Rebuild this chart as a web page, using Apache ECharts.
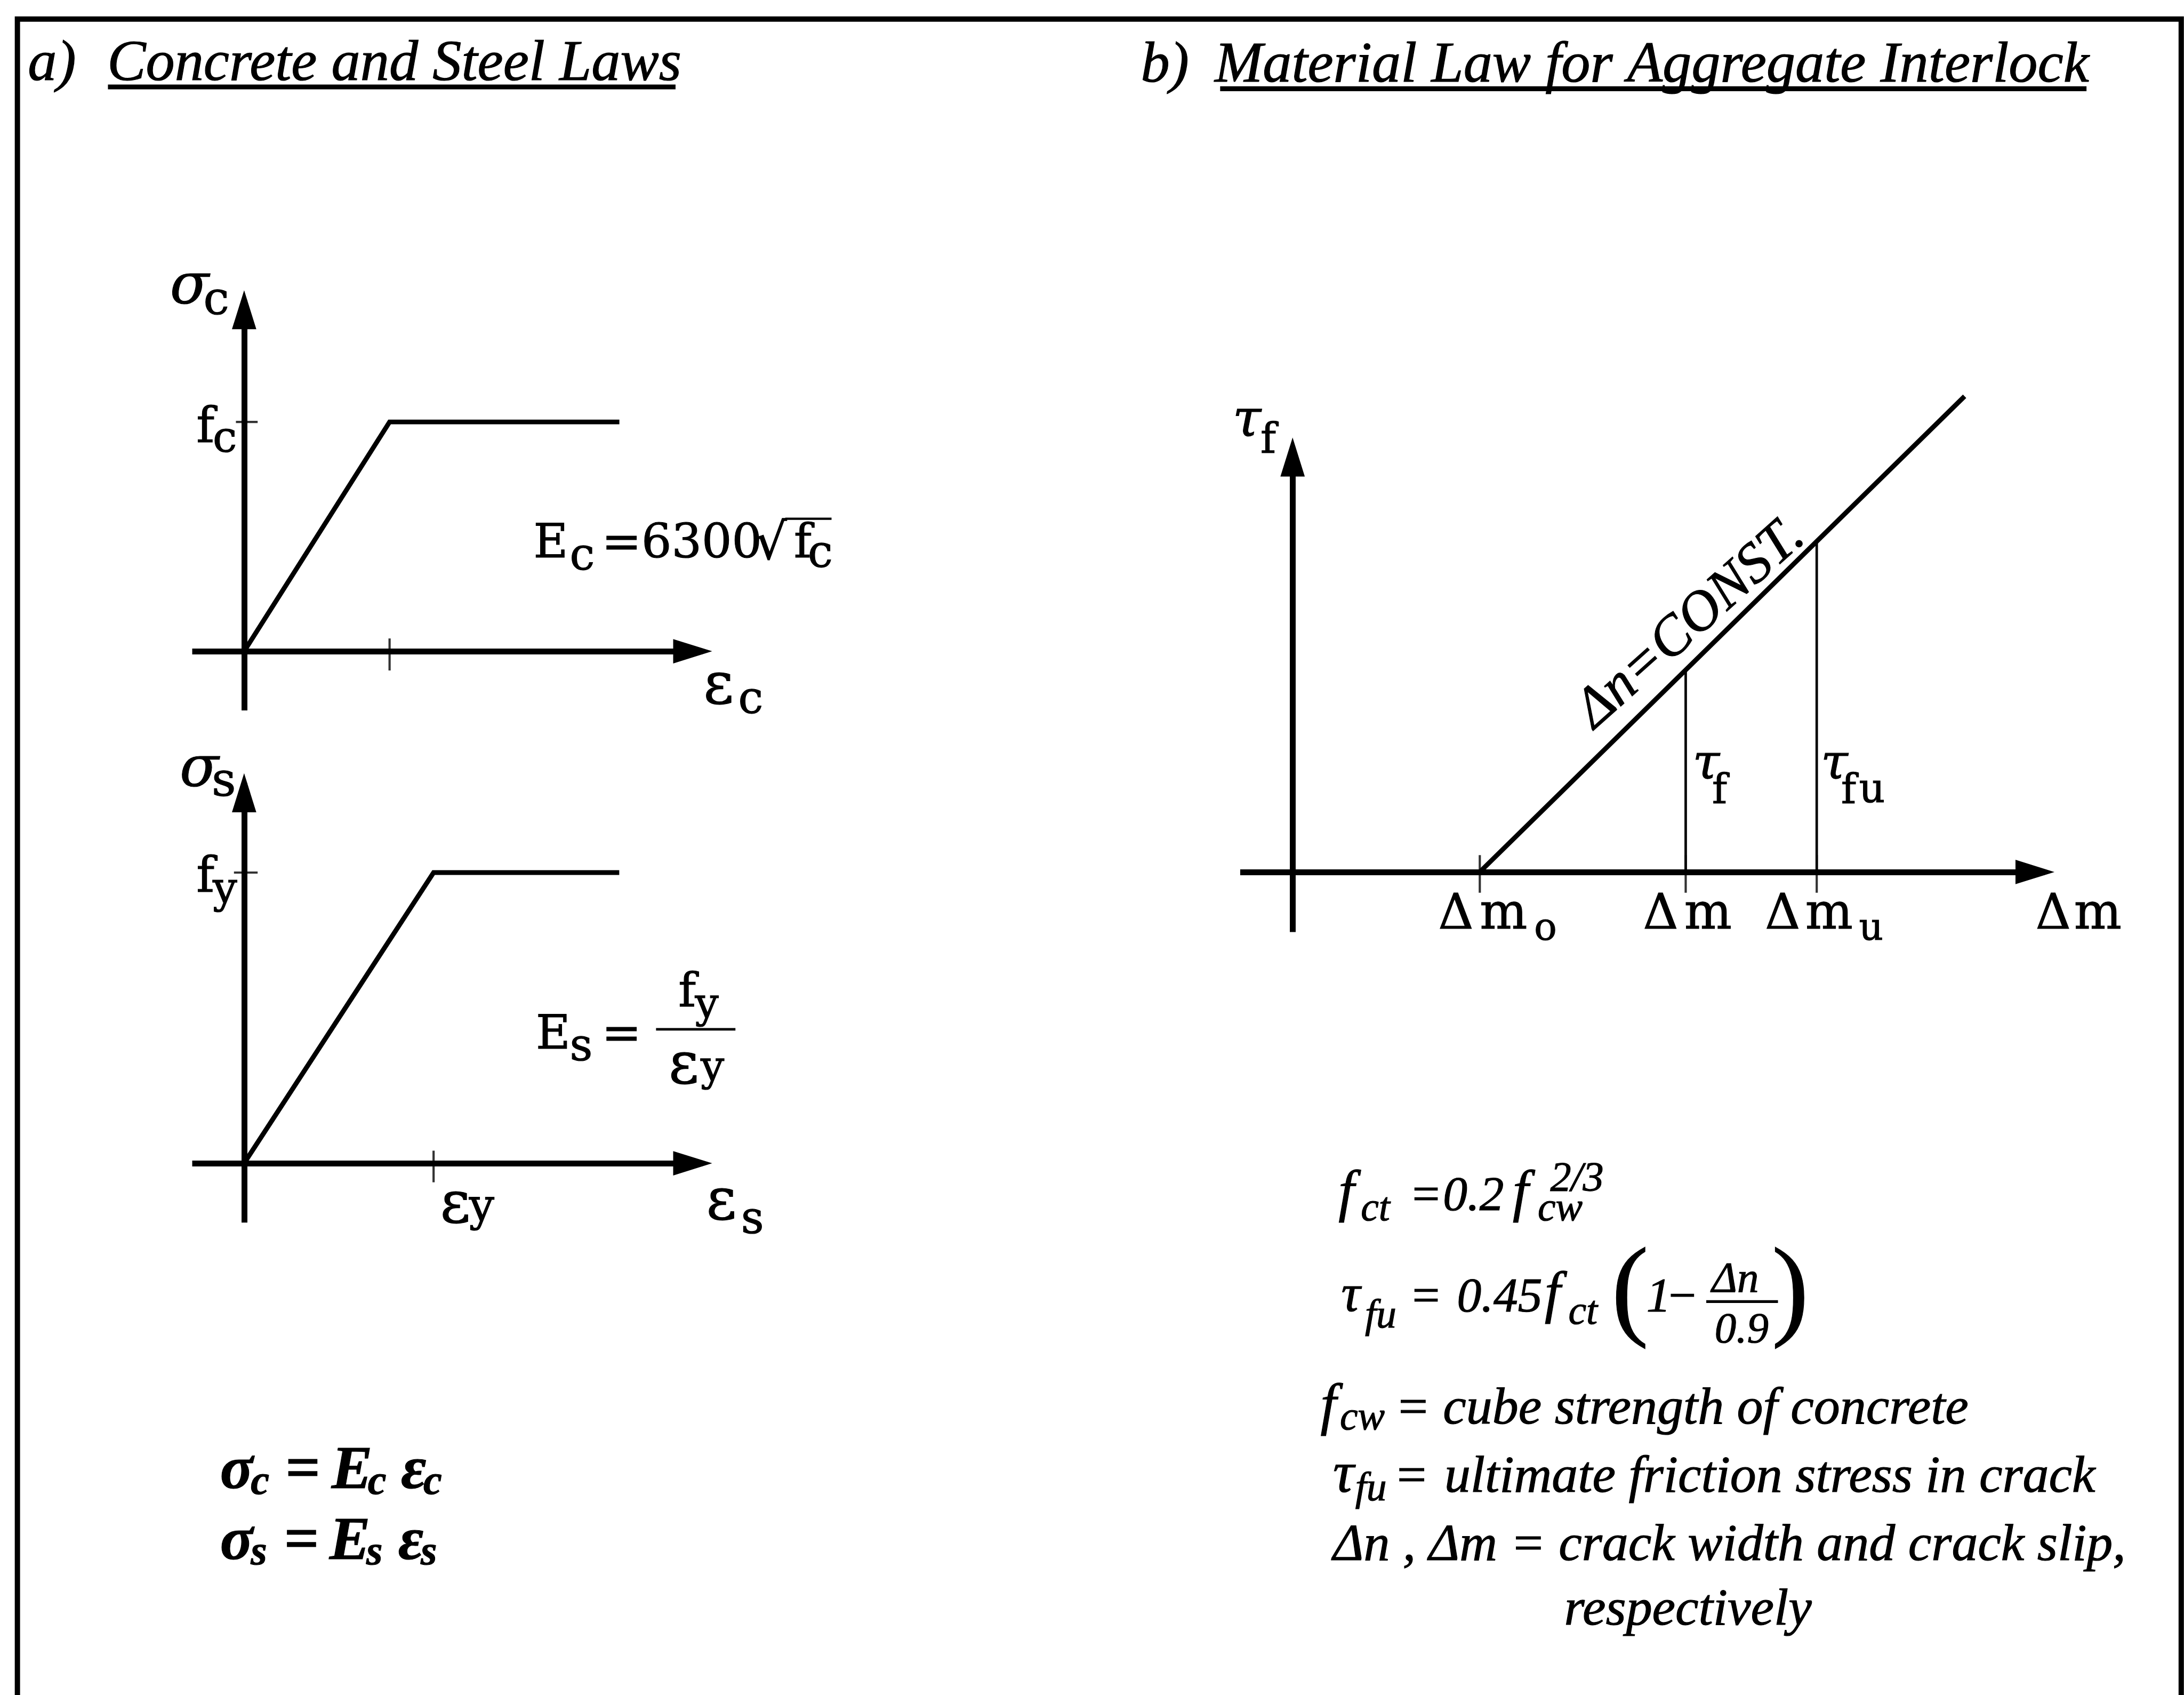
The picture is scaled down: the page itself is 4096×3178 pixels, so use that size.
<!DOCTYPE html>
<html>
<head>
<meta charset="utf-8">
<script src="https://cdn.jsdelivr.net/npm/echarts@6/dist/echarts.min.js"></script>
<style>
  html, body { margin: 0; padding: 0; background: #fff; }
  #main { width: 4096px; height: 3178px; }
</style>
</head>
<body>
<div id="main"></div>
<script>
// Layout is written in design units (1568 x 1217 sheet) and scaled to the window.
const S = 4096 / 1568;
const px = v => v * S;

// ---------- data ----------
// a) concrete and steel laws (strain and stress normalised to the knee point)
const concreteStrain = [0, 1.0, 2.58];
const concreteStress = [0, 1.0, 1.0];
const steelStrain = [0, 1.0, 1.98];
const steelStress = [0, 1.0, 1.0];
// b) aggregate interlock: friction stress vs. crack slip for constant crack width
const slipLine = [1.0, 3.59];
const frictionLine = [0, 2.54];
const slipMarks = [1.0, 2.10, 2.80];      // Δm_o, Δm, Δm_u
const frictionAtMarks = [1.08, 1.76];     // τ_f, τ_fu
// tick labels: [symbol, variable, subscript]
const slipTickLabels = [['Δ', 'm', 'o'], ['Δ', 'm', ''], ['Δ', 'm', 'u']];
const frictionTickLabels = [['τ', 'f', ''], ['τ', 'f', 'u']];

// axis ranges
const concreteX = [-0.357, 3.151], concreteY = [-0.258, 1.532];
const steelX = [-0.274, 2.419], steelY = [-0.204, 1.308];
const slipX = [-0.28, 4.018], frictionY = [-0.321, 2.268];

// ---------- fonts / text helpers ----------
const DV = '"DejaVu Serif"';
const LS = '"Liberation Serif"';
const F = (size, fam, style) => ((style ? style + ' ' : '') + (size * S).toFixed(2) + 'px ' + fam);
const INK = px(0.45);   // slight stroke so the lettering has the weight of printed type

const mctx = document.createElement('canvas').getContext('2d');
function midToBase(font) {
  mctx.font = font; mctx.textBaseline = 'middle';
  return mctx.measureText('H').actualBoundingBoxDescent;
}
function measure(text, font) {
  mctx.font = font; mctx.textBaseline = 'alphabetic';
  return mctx.measureText(text);
}

const els = [];
// text with its left edge at x and its baseline at b (window pixels)
function put(x, b, text, font, extra) {
  els.push(Object.assign({
    type: 'text', x: x, y: b, silent: true, z: 10,
    style: {
      text: text, font: font, fill: '#000', stroke: '#000', lineWidth: INK,
      x: 0, y: -midToBase(font),
      align: 'left', verticalAlign: 'middle', textAlign: 'left', textVerticalAlign: 'middle'
    }
  }, extra || {}));
}
const putD = (x, b, text, font, extra) => put(px(x), px(b), text, font, extra);
function rule(x1, y1, x2, y2, w) {
  els.push({ type: 'line', silent: true, z: 10,
    shape: { x1: x1, y1: y1, x2: x2, y2: y2 },
    style: { stroke: '#000', lineWidth: w } });
}
const ruleD = (x1, y1, x2, y2, w) => rule(px(x1), px(y1), px(x2), px(y2), px(w));

// ---------- chart ----------
const AXIS_W = px(4.2), CURVE_W = px(3.4), THIN_W = px(1.8), TICK_W = px(1.6);

const grids = [
  { left: px(138), top: px(215.3), width: px(504.3 - 138), height: px(509.9 - 215.3) },
  { left: px(138), top: px(562), width: px(504.3 - 138), height: px(877.5 - 562) },
  { left: px(890.4), top: px(321), width: px(1468 - 890.4), height: px(669 - 321) }
];

function makeAxis(i, range) {
  return {
    type: 'value', gridIndex: i, min: range[0], max: range[1],
    axisLine: {
      show: true, onZero: true,
      symbol: ['none', 'triangle'],
      symbolSize: [px(17.5), px(28)],
      symbolOffset: [0, -px(7)],
      lineStyle: { color: '#000', width: AXIS_W, cap: 'butt' }
    },
    axisTick: { show: false }, axisLabel: { show: false },
    splitLine: { show: false }, splitArea: { show: false },
    axisPointer: { show: false }
  };
}
function curve(i, xs, ys, w) {
  return {
    type: 'line', xAxisIndex: i, yAxisIndex: i,
    data: xs.map((x, k) => [x, ys[k]]),
    symbol: 'none', showSymbol: false, clip: false, silent: true, z: 3,
    lineStyle: { color: '#000', width: w, join: 'miter', cap: 'butt' }
  };
}
function ticks(i, pts, size, offset) {
  return {
    type: 'scatter', xAxisIndex: i, yAxisIndex: i, data: pts,
    symbol: 'rect', symbolSize: size, symbolOffset: offset,
    itemStyle: { color: '#000' }, silent: true, z: 4
  };
}

const chart = echarts.init(document.getElementById('main'), null, { renderer: 'canvas', width: 4096, height: 3178 });

chart.setOption({
  backgroundColor: '#fff',
  animation: false,
  grid: grids.map(g => Object.assign({ show: false, containLabel: false, outerBoundsMode: 'none' }, g)),
  xAxis: [makeAxis(0, concreteX), makeAxis(1, steelX), makeAxis(2, slipX)],
  yAxis: [makeAxis(0, concreteY), makeAxis(1, steelY), makeAxis(2, frictionY)],
  series: [
    curve(0, concreteStrain, concreteStress, CURVE_W),
    curve(1, steelStrain, steelStress, CURVE_W),
    curve(2, slipLine, frictionLine, CURVE_W),
    curve(2, [slipMarks[1], slipMarks[1]], [0, frictionAtMarks[0]], THIN_W),
    curve(2, [slipMarks[2], slipMarks[2]], [0, frictionAtMarks[1]], THIN_W),
    ticks(0, [[concreteStrain[1], 0]], [TICK_W, px(23)], [0, px(2.3)]),
    ticks(0, [[0, concreteStress[1]]], [px(15.6), TICK_W], [px(1.9), 0]),
    ticks(1, [[steelStrain[1], 0]], [TICK_W, px(22.7)], [0, px(2.3)]),
    ticks(1, [[0, steelStress[1]]], [px(17), TICK_W], [px(1.2), 0]),
    ticks(2, slipMarks.map(m => [m, 0]), [TICK_W, px(27)], [0, px(1.4)])
  ]
});

const at = (g, x, y) => chart.convertToPixel({ gridIndex: g }, [x, y]);

// ---------- frame and headings ----------
els.push({ type: 'polyline', silent: true, z: 10,
  shape: { points: [[px(12.5), 3200], [px(12.5), px(13.7)], [px(1566), px(13.7)], [px(1566), 3200]] },
  style: { stroke: '#000', lineWidth: px(3.8), fill: null, lineJoin: 'miter' } });

putD(20, 57.5, 'a)', F(41.5, LS, 'italic'));
putD(77, 57.5, 'Concrete and Steel Laws', F(41.5, LS, 'italic'));
ruleD(77.5, 62.4, 485, 62.4, 3.5);
putD(819, 58.5, 'b)', F(41.5, LS, 'italic'));
putD(872, 58.5, 'Material Law for Aggregate Interlock', F(41.5, LS, 'italic'));
ruleD(876, 63.7, 1498, 63.7, 3.5);

// ---------- a) concrete ----------
putD(122, 217.4, 'σ', F(41, DV, 'italic'));
putD(146, 225.5, 'c', F(33, DV));
{
  const A = at(0, 0, concreteStress[1]);
  put(A[0] - px(34.3), A[1] + px(14.5), 'f', F(35, DV));
  put(A[0] - px(22.5), A[1] + px(21.2), 'c', F(31, DV));
}
putD(383, 400, 'E', F(34, DV));
putD(409, 409, 'c', F(32, DV));
putD(432, 400, '=6300', F(34, DV));
{
  const fr = F(36, DV);
  putD(542, 401, '√', fr);
  const m = measure('√', fr);
  const x1 = px(542) + m.actualBoundingBoxRight - px(1.2);
  const y1 = px(401) - m.actualBoundingBoxAscent + px(0.8);
  rule(x1, y1, px(597), y1, px(1.6));
}
putD(570, 400, 'f', F(34, DV));
putD(580, 407, 'c', F(32, DV));
putD(505, 505, 'ε', F(42, DV));
putD(530, 512, 'c', F(32, DV));

// ---------- a) steel ----------
putD(129, 563.8, 'σ', F(41, DV, 'italic'));
putD(152, 571, 's', F(34, DV));
{
  const A = at(1, 0, steelStress[1]);
  put(A[0] - px(34.3), A[1] + px(13.7), 'f', F(35, DV));
  put(A[0] - px(22.5), A[1] + px(21.5), 'y', F(31, DV));
  const B = at(1, steelStrain[1], 0);
  put(B[0] + px(4.7), B[1] + px(42.5), 'ε', F(42, DV));
  put(B[0] + px(25.5), B[1] + px(41), 'y', F(32, DV));
}
putD(384.7, 752.5, 'E', F(34, DV));
putD(409, 761, 's', F(32, DV));
putD(432, 752.5, '=', F(34, DV));
ruleD(471, 738.8, 528, 738.8, 1.8);
putD(487, 722.5, 'f', F(34, DV));
putD(499, 730.5, 'y', F(30, DV));
putD(480, 777.5, 'ε', F(42, DV));
putD(503, 775.5, 'y', F(30, DV));
putD(507, 875, 'ε', F(42, DV));
putD(532, 885, 's', F(32, DV));

// constitutive relations
{
  const fm = F(44, LS, 'italic bold'), fs = F(30, LS, 'italic bold'), fe = F(44, LS, 'bold');
  putD(158, 1068, 'σ', fm); putD(180, 1072.7, 'c', fs);
  putD(205, 1068, '=', fe);
  putD(238, 1068, 'E', fm); putD(264, 1072.7, 'c', fs);
  putD(288, 1068, 'ε', fm); putD(304, 1072.7, 'c', fs);
  putD(158, 1119, 'σ', fm); putD(180, 1123, 's', fs);
  putD(204, 1119, '=', fe);
  putD(236.5, 1119, 'E', fm); putD(263, 1123, 's', fs);
  putD(286, 1119, 'ε', fm); putD(302, 1123, 's', fs);
}

// ---------- b) aggregate interlock ----------
putD(885, 313, 'τ', F(37, DV, 'italic'));
putD(905, 325, 'f', F(30, DV));
{
  // slip tick labels
  const dxs = [[-29.8, 0, 39], [-30.6, -1, 0], [-37.1, -8.2, 30.4]];
  slipMarks.forEach((m, k) => {
    const A = at(2, m, 0);
    const lab = slipTickLabels[k], d = dxs[k];
    put(A[0] + px(d[0]), A[1] + px(40.7), lab[0], F(35, DV));
    put(A[0] + px(d[1]), A[1] + px(40.7), lab[1], F(36, DV));
    if (lab[2]) put(A[0] + px(d[2]), A[1] + px(48.8), lab[2], F(27, DV));
  });
  // friction labels beside the drop lines
  const fdx = [[5, 19, 0], [3, 17.5, 30.4]];
  frictionAtMarks.forEach((v, k) => {
    const A = at(2, slipMarks[k + 1], 0);
    const lab = frictionTickLabels[k], d = fdx[k];
    put(A[0] + px(d[0]), A[1] - px(67), lab[0], F(35, DV, 'italic'));
    put(A[0] + px(d[1]), A[1] - px(49.5), lab[1], F(29, DV));
    if (lab[2]) put(A[0] + px(d[2]), A[1] - px(50.2), lab[2], F(29, DV));
  });
  // label along the friction line
  const p0 = at(2, slipLine[0], frictionLine[0]), p1 = at(2, slipLine[1], frictionLine[1]);
  const ang = Math.atan2(p0[1] - p1[1], p1[0] - p0[0]);
  const dir = [Math.cos(ang), -Math.sin(ang)], nrm = [-Math.sin(ang), -Math.cos(ang)];
  const s0 = px(130.3), h0 = px(14.9);
  put(p0[0] + dir[0] * s0 + nrm[0] * h0, p0[1] + dir[1] * s0 + nrm[1] * h0,
      'Δn=CONST.', F(40.5, LS, 'italic'), { rotation: ang - 2.7 * Math.PI / 180 });
}
putD(1461.5, 666.5, 'Δ', F(35, DV));
putD(1489, 666.5, 'm', F(36, DV));

// ---------- b) formulas and notation ----------
{
  const fb = F(41, LS, 'italic'), fn = F(35, LS, 'italic'), fsub = F(29, LS, 'italic'),
        fsup = F(30, LS, 'italic'), feq = F(35, LS), fr = F(31, LS, 'italic'),
        fpar = F(80, LS), ftxt = F(37.5, LS, 'italic'), feq2 = F(37.5, LS);
  // f_ct = 0.2 f_cw^(2/3)
  putD(961, 868.6, 'f', fb); putD(977, 876, 'ct', fsub);
  putD(1014, 868.6, '=', feq);
  putD(1036, 868.6, '0.2', fn);
  putD(1086, 868.6, 'f', fb); putD(1104, 876, 'cw', fsub); putD(1113, 855, '2/3', fsup);
  // τ_fu = 0.45 f_ct (1 − Δn/0.9)
  putD(963, 941.5, 'τ', F(38, LS, 'italic')); putD(980, 953, 'fu', fsub);
  putD(1014, 941.5, '=', feq);
  putD(1046, 941.5, '0.45', fn);
  putD(1109, 941.5, 'f', fb); putD(1126, 950, 'ct', fsub);
  putD(1157, 951, '(', fpar);
  putD(1182, 941.5, '1', fn);
  putD(1198, 941.5, '−', feq);
  putD(1229, 927, 'Δn', fr);
  ruleD(1225, 934.2, 1276.5, 934.2, 2);
  putD(1231, 963.4, '0.9', fr);
  putD(1272, 951, ')', fpar);
  // notation
  putD(948, 1021.7, 'f', fb); putD(962, 1026, 'cw', fsub);
  putD(1004, 1021.7, '=', feq2);
  putD(1036, 1021.7, 'cube strength of concrete', ftxt);
  putD(957, 1070.7, 'τ', F(42, LS, 'italic')); putD(973, 1077, 'fu', fsub);
  putD(1003, 1070.7, '=', feq2);
  putD(1037, 1070.7, 'ultimate friction stress in crack', ftxt);
  putD(957, 1119.6, 'Δn , Δm = crack width and crack slip,', ftxt);
  putD(1123, 1166, 'respectively', ftxt);
}

chart.setOption({ graphic: { elements: els } });
</script>
</body>
</html>
